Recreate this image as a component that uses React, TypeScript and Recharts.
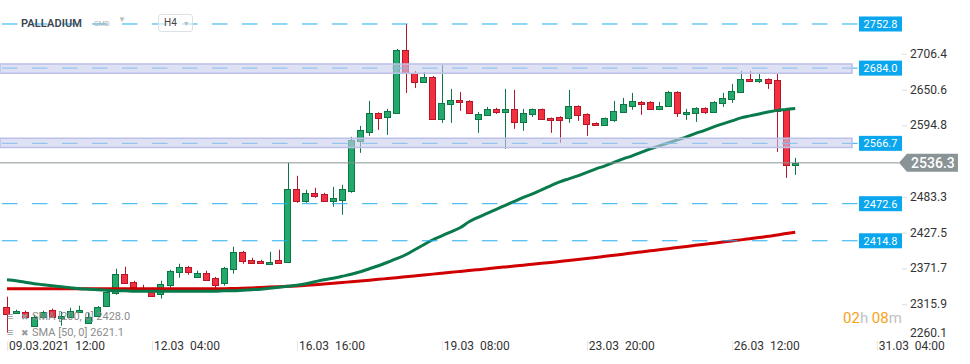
import React from 'react'
import { ComposedChart, Bar, Line, XAxis, YAxis, ReferenceLine, ReferenceArea } from 'recharts'

// H4 candles, PALLADIUM
const opens = [
  2312.0, 2302.7, 2304.2, 2282.4, 2296.5, 2307.3, 2294.9, 2296.5, 2304.2, 2287.1,
  2298.0, 2313.6, 2333.8, 2363.4, 2351.0, 2341.6, 2338.5, 2332.3, 2346.3, 2366.5,
  2374.3, 2358.7, 2365.0, 2357.2, 2349.4, 2371.2, 2397.7, 2385.2, 2383.7, 2379.0,
  2385.2, 2382.1, 2495.8, 2477.1, 2489.6, 2488.0, 2477.1, 2478.7, 2492.7, 2570.6,
  2584.6, 2614.2, 2608.0, 2614.2, 2712.3, 2676.5, 2662.5, 2670.3, 2604.9, 2628.2,
  2634.4, 2632.9, 2604.9, 2611.1, 2620.4, 2615.7, 2620.4, 2600.2, 2612.6, 2620.4,
  2606.4, 2608.0, 2606.4, 2625.1, 2612.6, 2598.6, 2595.5, 2603.3, 2615.7, 2625.1,
  2631.3, 2631.3, 2620.4, 2625.1, 2646.9, 2612.6, 2614.2, 2622.0, 2615.7, 2629.8,
  2636.0, 2646.9, 2667.1, 2664.0, 2667.1, 2665.6, 2620.4, 2533.2,
]
const highs = [
  2327.6, 2307.3, 2305.8, 2299.6, 2305.8, 2309.0, 2304.2, 2310.5, 2313.6, 2302.7,
  2313.0, 2337.0, 2371.2, 2374.3, 2352.5, 2346.3, 2341.6, 2352.5, 2369.6, 2379.0,
  2375.8, 2368.1, 2368.1, 2358.5, 2374.0, 2405.5, 2399.0, 2388.3, 2385.2, 2397.7,
  2400.8, 2536.3, 2516.1, 2494.3, 2497.4, 2489.6, 2498.9, 2502.1, 2576.8, 2593.9,
  2632.9, 2615.0, 2620.4, 2713.9, 2752.8, 2679.6, 2678.1, 2671.8, 2689.0, 2651.6,
  2646.9, 2634.0, 2615.7, 2623.5, 2622.0, 2651.6, 2650.0, 2620.4, 2621.0, 2621.0,
  2607.0, 2609.0, 2650.0, 2626.0, 2613.5, 2599.5, 2607.0, 2632.9, 2637.6, 2645.3,
  2632.9, 2632.5, 2631.3, 2648.5, 2648.0, 2620.4, 2623.0, 2623.0, 2632.5, 2645.3,
  2659.4, 2679.6, 2679.6, 2674.9, 2668.0, 2674.9, 2622.0, 2544.1,
]
const lows = [
  2271.5, 2301.1, 2294.9, 2281.0, 2294.9, 2294.9, 2282.4, 2295.0, 2303.0, 2286.0,
  2297.0, 2312.0, 2330.7, 2348.0, 2342.0, 2337.0, 2327.6, 2324.5, 2338.5, 2357.2,
  2361.9, 2357.5, 2353.0, 2340.0, 2344.7, 2363.4, 2379.0, 2379.5, 2379.0, 2378.0,
  2379.5, 2380.5, 2474.0, 2474.0, 2481.8, 2475.5, 2467.8, 2455.3, 2489.6, 2551.9,
  2578.4, 2587.7, 2579.9, 2612.6, 2645.3, 2653.1, 2661.0, 2603.5, 2598.6, 2598.6,
  2617.3, 2613.0, 2583.0, 2610.0, 2612.6, 2558.1, 2589.3, 2586.2, 2608.0, 2604.0,
  2583.0, 2567.5, 2598.6, 2601.7, 2578.4, 2594.5, 2594.5, 2600.2, 2614.5, 2618.9,
  2611.1, 2618.9, 2619.5, 2624.0, 2608.0, 2603.3, 2600.2, 2612.6, 2614.5, 2623.5,
  2629.8, 2645.5, 2663.0, 2660.9, 2651.6, 2553.4, 2512.9, 2517.6,
]
const closes = [
  2301.1, 2305.8, 2296.5, 2296.5, 2304.2, 2296.5, 2298.0, 2305.8, 2307.3, 2296.5,
  2312.0, 2335.4, 2363.4, 2349.4, 2343.2, 2338.5, 2329.1, 2347.8, 2368.1, 2374.3,
  2366.5, 2365.0, 2354.1, 2346.3, 2372.8, 2397.7, 2383.7, 2380.5, 2380.5, 2382.1,
  2380.5, 2495.8, 2477.1, 2489.6, 2484.9, 2477.1, 2481.8, 2495.8, 2572.1, 2587.7,
  2614.2, 2606.4, 2617.3, 2712.3, 2676.5, 2662.5, 2670.3, 2604.9, 2629.8, 2634.4,
  2631.3, 2614.2, 2612.6, 2620.4, 2615.7, 2620.4, 2600.2, 2614.2, 2620.4, 2604.9,
  2603.3, 2603.3, 2625.1, 2611.1, 2597.1, 2595.5, 2606.4, 2617.3, 2628.2, 2632.9,
  2628.2, 2620.4, 2625.1, 2646.9, 2614.2, 2615.7, 2622.0, 2615.7, 2631.3, 2637.6,
  2648.5, 2667.1, 2664.0, 2667.1, 2660.9, 2617.3, 2533.2, 2536.3,
]
const sma50 = [
  2354.1, 2352.5, 2350.2, 2347.8, 2346.3, 2344.7, 2343.2, 2341.6, 2340.0, 2339.3,
  2338.5, 2337.7, 2336.9, 2336.9, 2336.1, 2336.1, 2336.1, 2336.1, 2336.1, 2336.1,
  2336.1, 2336.1, 2336.1, 2336.1, 2336.9, 2336.9, 2337.7, 2338.5, 2339.3, 2340.8,
  2342.4, 2343.9, 2345.5, 2347.8, 2351.0, 2354.1, 2356.4, 2359.5, 2362.6, 2366.5,
  2371.2, 2375.9, 2381.3, 2386.8, 2393.0, 2400.8, 2408.6, 2416.4, 2422.6, 2428.8,
  2435.1, 2444.4, 2451.4, 2457.6, 2463.9, 2470.1, 2476.3, 2482.6, 2488.0, 2494.3,
  2500.5, 2506.7, 2511.4, 2516.1, 2521.5, 2527.0, 2531.6, 2537.1, 2542.5, 2547.2,
  2552.7, 2558.1, 2562.8, 2567.5, 2572.1, 2576.8, 2582.3, 2586.9, 2592.4, 2597.1,
  2601.7, 2606.4, 2609.5, 2612.6, 2615.7, 2618.1, 2619.6, 2621.1,
]
const sma200 = [
  2340.0, 2340.0, 2340.0, 2340.0, 2340.0, 2340.0, 2340.0, 2340.0, 2340.0, 2340.0,
  2340.0, 2340.0, 2340.0, 2340.0, 2340.0, 2340.0, 2340.0, 2340.0, 2340.0, 2340.0,
  2340.0, 2340.0, 2340.0, 2340.0, 2340.0, 2340.4, 2340.8, 2341.3, 2341.9, 2342.6,
  2343.2, 2343.8, 2344.4, 2345.3, 2346.3, 2347.4, 2348.5, 2349.7, 2351.0, 2352.2,
  2353.4, 2354.7, 2355.9, 2357.2, 2358.6, 2360.0, 2361.4, 2362.8, 2364.2, 2365.6,
  2367.0, 2368.4, 2369.8, 2371.2, 2372.6, 2374.0, 2375.4, 2376.8, 2378.2, 2379.6,
  2381.0, 2382.6, 2384.1, 2385.7, 2387.2, 2388.8, 2390.5, 2392.2, 2393.9, 2395.7,
  2397.4, 2399.1, 2400.8, 2402.5, 2404.2, 2406.0, 2407.7, 2409.4, 2411.1, 2412.8,
  2414.5, 2416.2, 2418.0, 2419.8, 2421.7, 2423.7, 2426.0, 2428.0,
]

const xTicks = [0, 16, 32, 48, 64, 80, 96]
const xTickLabels = [
  '09.03.2021  12:00', '12.03  04:00', '16.03  16:00', '19.03  08:00',
  '23.03  20:00', '26.03  12:00', '31.03  04:00',
]
const yTicks = [2260.1, 2315.9, 2371.7, 2427.5, 2483.3, 2594.8, 2650.6, 2706.4]
const levels = [2752.8, 2684.0, 2566.7, 2472.6, 2414.8]
const zones = [
  [2676.0, 2690.5],
  [2560.1, 2574.8],
]
const lastPrice = 2536.3

const FONT = 'Roboto, "Noto Sans", sans-serif'
const GREEN = '#24a96c'
const GREEN_EDGE = '#0e7645'
const RED = '#f3303f'
const RED_EDGE = '#b5162a'
const BLUE = '#0aa6ee'

// x domain in bar index units, last tick sits under the price scale
const X_MIN = -0.77
const X_MAX = 106.29
const LINE_END = 93.93
const ZONE_END = 93.27
const PRICE_LINE_END = 98.45

const data = opens.map((o, i) => ({
  i,
  open: o,
  high: highs[i],
  low: lows[i],
  close: closes[i],
  range: [lows[i], highs[i]],
  sma50: sma50[i],
  sma200: sma200[i],
}))

function Candle(props: any) {
  const { x, y, width, height, payload } = props
  if (x == null || payload == null) return null
  const h = Math.abs(height)
  const top = height < 0 ? y + height : y
  const span = payload.high - payload.low || 1
  const py = (v: number) => top + ((payload.high - v) / span) * h
  const up = payload.close >= payload.open
  const bTop = py(Math.max(payload.open, payload.close))
  const bBot = py(Math.min(payload.open, payload.close))
  const cx = Math.round(x + width / 2) + 0.5
  const left = Math.round(x) + 0.5
  return (
    <g>
      <line x1={cx} x2={cx} y1={top} y2={top + h} stroke={up ? GREEN_EDGE : RED_EDGE} strokeWidth={1} />
      <rect
        x={left}
        y={Math.round(bTop) + 0.5}
        width={Math.max(Math.round(width) - 1, 1)}
        height={Math.max(Math.round(bBot - bTop), 1)}
        fill={up ? GREEN : RED}
        stroke={up ? GREEN_EDGE : RED_EDGE}
        strokeWidth={1}
      />
    </g>
  )
}

function XTick(props: any) {
  const { x, payload } = props
  const label = xTickLabels[xTicks.indexOf(payload.value)]
  return (
    <g>
      <line x1={x + 0.5} x2={x + 0.5} y1={341} y2={351} stroke="#e4e6e8" />
      <text x={x + 2} y={350} fill="#333" fontSize={12} fontFamily={FONT} style={{ whiteSpace: 'pre' }}>
        {label}
      </text>
    </g>
  )
}

function YTick(props: any) {
  const { y, payload } = props
  const low = payload.value === yTicks[0]
  return (
    <g>
      <line x1={902} x2={907} y1={y + 0.5} y2={y + 0.5} stroke="#dedede" />
      <text x={910} y={low ? y - 3 : y + 4} fill="#333" fontSize={12} fontFamily={FONT}>
        {payload.value.toFixed(1)}
      </text>
    </g>
  )
}

function LevelTag(props: any) {
  const { viewBox, value } = props
  if (!viewBox) return null
  const x = viewBox.x + viewBox.width + 1
  const y = viewBox.y
  return (
    <g>
      <rect x={x} y={y - 7.5} width={43} height={15} fill={BLUE} />
      <text x={x + 21.5} y={y + 4} textAnchor="middle" fill="#fff" fontSize={11} fontFamily={FONT}>
        {value.toFixed(1)}
      </text>
    </g>
  )
}

function PriceTag(props: any) {
  const { viewBox, value } = props
  if (!viewBox) return null
  const x = viewBox.x + viewBox.width
  const y = viewBox.y
  const pts = `${x},${y} ${x + 8},${y - 9} ${x + 59},${y - 9} ${x + 59},${y + 9} ${x + 8},${y + 9}`
  return (
    <g>
      <polygon points={pts} fill="#8a9396" />
      <text x={x + 34} y={y + 5} textAnchor="middle" fill="#fff" fontSize={14} fontWeight={500} fontFamily={FONT}>
        {value.toFixed(1)}
      </text>
    </g>
  )
}

export default function App() {
  return (
    <div style={{ position: 'relative', width: 970, height: 364, fontFamily: FONT, background: '#fff' }}>
      <style>{'body{margin:0}'}</style>
      <ComposedChart width={970} height={364} data={data} margin={{ top: 0, right: 0, bottom: 0, left: 0 }}>
        <XAxis
          dataKey="i"
          type="number"
          domain={[X_MIN, X_MAX]}
          ticks={xTicks}
          interval={0}
          tick={<XTick />}
          axisLine={false}
          tickLine={false}
          height={24}
          allowDataOverflow
        />
        <YAxis
          orientation="right"
          mirror
          domain={[2260.1, 2790.2]}
          ticks={yTicks}
          interval={0}
          tick={<YTick />}
          axisLine={false}
          tickLine={false}
          allowDataOverflow
        />
        <Bar dataKey="range" barSize={7} shape={<Candle />} isAnimationActive={false} />
        <Line type="monotone" dataKey="sma200" stroke="#d10000" strokeWidth={3} dot={false} activeDot={false} isAnimationActive={false} />
        <Line type="monotone" dataKey="sma50" stroke="#087a4b" strokeWidth={3} dot={false} activeDot={false} isAnimationActive={false} />
        <ReferenceLine
          segment={[{ x: X_MIN, y: lastPrice }, { x: PRICE_LINE_END, y: lastPrice }]}
          stroke="#8a9396"
          strokeWidth={1}
          label={<PriceTag value={lastPrice} />}
          zIndex={900}
        />
        {levels.map((v) => (
          <ReferenceLine
            key={v}
            segment={[{ x: X_MIN, y: v }, { x: LINE_END, y: v }]}
            stroke="#22aef0"
            strokeWidth={1}
            strokeDasharray="15.5 14.5"
            strokeDashoffset={-2}
            label={<LevelTag value={v} />}
            zIndex={900}
          />
        ))}
        {zones.map(([lo, hi]) => (
          <ReferenceArea
            key={lo}
            x1={X_MIN}
            x2={ZONE_END}
            y1={lo}
            y2={hi}
            fill="#c8cbec"
            fillOpacity={0.6}
            stroke="#bcc0e6"
            strokeWidth={1.5}
            zIndex={1000}
          />
        ))}
      </ComposedChart>

      {/* header */}
      <div style={{ position: 'absolute', left: 21, top: 17, fontSize: 11, fontWeight: 600, color: '#3b4650', letterSpacing: 0.1 }}>
        PALLADIUM
      </div>
      <div style={{ position: 'absolute', left: 94, top: 20, fontSize: 7, color: '#aab1b7' }}>GMD</div>
      <div style={{ position: 'absolute', left: 118, top: 15, fontSize: 8, color: '#b7bcc0' }}>▼</div>
      <div
        style={{
          position: 'absolute', left: 158, top: 14, width: 33, height: 16, border: '1px solid #dde1e4',
          borderRadius: 3, background: 'rgba(255,255,255,0.6)', fontSize: 10, color: '#444', lineHeight: '16px',
        }}
      >
        <span style={{ marginLeft: 5 }}>H4</span>
        <span style={{ marginLeft: 6, fontSize: 7, color: '#b7bcc0' }}>▼</span>
      </div>

      {/* indicator legend */}
      <div style={{ position: 'absolute', left: 7, top: 309, fontSize: 11, color: '#8c8c8c', lineHeight: '15px' }}>
        <div>
          <span style={{ display: 'inline-block', width: 14, color: '#9a9a9a' }}>≡</span>
          <span style={{ display: 'inline-block', width: 11, color: '#9a9a9a', fontSize: 9 }}>✖</span>
          SMA [200, 0] 2428.0
        </div>
        <div>
          <span style={{ display: 'inline-block', width: 14, color: '#9a9a9a' }}>≡</span>
          <span style={{ display: 'inline-block', width: 11, color: '#9a9a9a', fontSize: 9 }}>✖</span>
          SMA [50, 0] 2621.1
        </div>
      </div>

      {/* bar countdown */}
      <div style={{ position: 'absolute', left: 843, top: 309, fontSize: 15, lineHeight: '18px' }}>
        <span style={{ color: '#f5a31a' }}>02</span>
        <span style={{ color: '#bcc2c6' }}>h </span>
        <span style={{ color: '#f5a31a' }}>08</span>
        <span style={{ color: '#bcc2c6' }}>m</span>
      </div>
    </div>
  )
}
